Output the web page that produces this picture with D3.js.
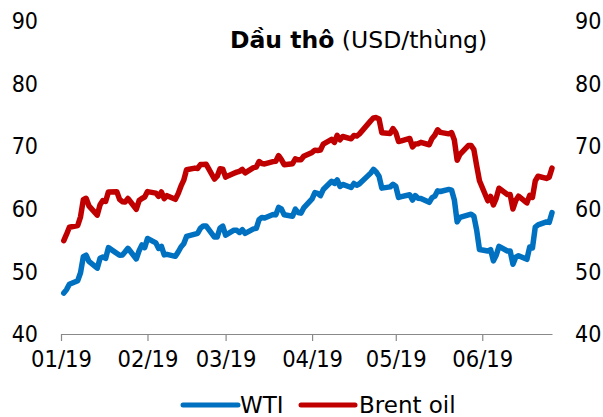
<!DOCTYPE html>
<html>
<head>
<meta charset="utf-8">
<script src="https://cdn.jsdelivr.net/npm/d3@7"></script>
<style>
  html, body { margin: 0; padding: 0; background: #fff; }
  svg { display: block; }
  text { font-family: "DejaVu Sans Condensed", "DejaVu Sans", sans-serif; font-stretch: condensed; fill: #000; }
  text.wide { font-family: "DejaVu Sans", sans-serif; font-stretch: normal; }
</style>
</head>
<body>
<div id="chart"></div>
<script>
// trading days, Jan 2 – Jun 26, 2019
const dates = [
  "2019-01-02","2019-01-03","2019-01-04","2019-01-07","2019-01-08","2019-01-09","2019-01-10","2019-01-11",
  "2019-01-14","2019-01-15","2019-01-16","2019-01-17","2019-01-18","2019-01-21","2019-01-22","2019-01-23",
  "2019-01-24","2019-01-25","2019-01-28","2019-01-29","2019-01-30","2019-01-31",
  "2019-02-01","2019-02-04","2019-02-05","2019-02-06","2019-02-07","2019-02-08","2019-02-11","2019-02-12",
  "2019-02-13","2019-02-14","2019-02-15","2019-02-18","2019-02-19","2019-02-20","2019-02-21","2019-02-22",
  "2019-02-25","2019-02-26","2019-02-27","2019-02-28",
  "2019-03-01","2019-03-04","2019-03-05","2019-03-06","2019-03-07","2019-03-08","2019-03-11","2019-03-12",
  "2019-03-13","2019-03-14","2019-03-15","2019-03-18","2019-03-19","2019-03-20","2019-03-21","2019-03-22",
  "2019-03-25","2019-03-26","2019-03-27","2019-03-28","2019-03-29",
  "2019-04-01","2019-04-02","2019-04-03","2019-04-04","2019-04-05","2019-04-08","2019-04-09","2019-04-10",
  "2019-04-11","2019-04-12","2019-04-15","2019-04-16","2019-04-17","2019-04-18","2019-04-22","2019-04-23",
  "2019-04-24","2019-04-25","2019-04-26","2019-04-29","2019-04-30",
  "2019-05-01","2019-05-02","2019-05-03","2019-05-06","2019-05-07","2019-05-08","2019-05-09","2019-05-10",
  "2019-05-13","2019-05-14","2019-05-15","2019-05-16","2019-05-17","2019-05-20","2019-05-21","2019-05-22",
  "2019-05-23","2019-05-24","2019-05-27","2019-05-28","2019-05-29","2019-05-30","2019-05-31",
  "2019-06-03","2019-06-04","2019-06-05","2019-06-06","2019-06-07","2019-06-10","2019-06-11","2019-06-12",
  "2019-06-13","2019-06-14","2019-06-17","2019-06-18","2019-06-19","2019-06-20","2019-06-21","2019-06-24",
  "2019-06-25","2019-06-26"
];

// null = no trading that day
const wti = [
  46.54, 47.09, 47.96, 48.52, 49.78, 52.36, 52.59, 51.59, 50.51, 52.11, 52.31, 52.07, 53.80, null, 52.57, 52.62,
  53.13, 53.69, 51.99, 53.31, 54.23, 53.79,
  55.26, 54.56, 53.66, 54.01, 52.64, 52.72, 52.41, 53.10, 53.90, 54.41, 55.59, null, 56.09, 56.92, 57.26, 57.26,
  55.48, 55.50, 56.94, 57.22,
  55.80, 56.59, 56.56, 56.22, 56.66, 56.07, 56.79, 56.87, 58.26, 58.61, 58.52, 59.09, 59.03, 60.23, 59.98, 59.04,
  58.82, 59.94, 59.41, 59.30, 60.14,
  61.59, 62.58, 62.46, 62.10, 63.08, 64.40, 64.05, 64.61, 63.58, 63.89, 63.40, 64.05, 63.76, 64.00, 65.70, 66.30,
  65.89, 65.21, 63.30, 63.50, 63.91,
  63.60, 61.81, 61.94, 62.25, 61.40, 62.12, 61.70, 61.66, 61.04, 61.78, 62.02, 62.87, 62.76, 63.10, 62.99, 61.42,
  57.91, 58.63, null, 59.14, 58.81, 56.59, 53.50,
  53.25, 53.48, 51.68, 52.59, 53.99, 53.26, 53.27, 51.14, 52.28, 52.51, 51.93, 53.90, 53.76, 57.07, 57.43, 57.90,
  57.83, 59.38
];

const brent = [
  54.91, 55.95, 57.06, 57.33, 58.72, 61.44, 61.68, 60.48, 58.99, 60.64, 61.32, 61.18, 62.70, 62.74, 61.50, 61.14,
  61.09, 61.64, 59.93, 61.32, 61.65, 61.89,
  62.75, 62.51, 61.98, 62.69, 61.63, 62.10, 61.51, 62.42, 63.61, 64.57, 66.25, 66.50, 66.45, 67.08, 67.07, 67.12,
  64.76, 65.21, 66.39, 66.31,
  65.07, 65.67, 65.86, 65.99, 66.30, 65.74, 66.58, 66.67, 67.55, 67.23, 67.16, 67.54, 67.61, 68.50, 67.86, 67.03,
  67.21, 67.97, 67.83, 67.82, 68.39,
  69.01, 69.37, 69.31, 69.40, 70.34, 71.10, 70.61, 71.73, 71.02, 71.55, 71.18, 71.72, 71.62, 71.97, 74.04, 74.51,
  74.57, 74.35, 72.15, 72.04, 72.80,
  72.18, 70.75, 70.85, 71.24, 69.88, 70.37, 70.39, 70.62, 70.23, 71.24, 71.77, 72.62, 72.21, 71.97, 72.18, 70.99,
  67.76, 68.69, 70.11, 70.11, 69.45, 66.87, 64.49,
  61.28, 61.97, 60.63, 61.67, 63.29, 62.29, 62.29, 59.97, 61.31, 62.01, 60.94, 62.14, 61.82, 64.45, 65.20, 64.86,
  65.05, 66.49
];

const yTicks = [40, 50, 60, 70, 80, 90];
const monthTicks = ["2019-01-01", "2019-02-01", "2019-03-01", "2019-04-01", "2019-05-01", "2019-06-01"];
const seriesNames = ["WTI", "Brent oil"];
const seriesColors = ["#0070c0", "#c00000"];

const width = 603;
const height = 417;
const parse = d3.timeParse("%Y-%m-%d");

const svg = d3.select("#chart").append("svg")
  .attr("width", width)
  .attr("height", height);

const x = d3.scaleTime()
  .domain([parse("2019-01-01"), parse(dates[dates.length - 1])])
  .range([61, 552]);

const y = d3.scaleLinear()
  .domain([40, 90])
  .range([334, 21]);

// x axis: baseline plus month ticks hanging below
const xAxis = svg.append("g")
  .attr("transform", `translate(0,${y(40)})`)
  .call(d3.axisBottom(x)
    .tickValues(monthTicks.map(parse))
    .tickFormat(d3.timeFormat("%m/%y"))
    .tickSize(7)
    .tickSizeOuter(0)
    .tickPadding(9));
xAxis.select(".domain").attr("stroke", "#898989").attr("stroke-width", 1.2);
xAxis.selectAll(".tick line").attr("stroke", "#898989").attr("stroke-width", 1.2);
xAxis.selectAll(".tick text")
  .attr("font-family", null)
  .style("font-size", "23.5px");

// y labels on both sides, no axis lines
const yLabels = svg.append("g");
yLabels.selectAll("text.left")
  .data(yTicks)
  .join("text")
  .attr("class", "left")
  .attr("x", 38)
  .attr("y", (d) => y(d))
  .attr("dy", "0.36em")
  .attr("text-anchor", "end")
  .style("font-size", "23px")
  .text((d) => d);
yLabels.selectAll("text.right")
  .data(yTicks)
  .join("text")
  .attr("class", "right")
  .attr("x", 575)
  .attr("y", (d) => y(d))
  .attr("dy", "0.36em")
  .attr("text-anchor", "start")
  .style("font-size", "23px")
  .text((d) => d);

// series lines
const line = d3.line()
  .x((d) => x(d.date))
  .y((d) => y(d.value));

[wti, brent].forEach((values, i) => {
  const points = dates
    .map((d, j) => ({ date: parse(d), value: values[j] }))
    .filter((p) => p.value !== null);
  svg.append("path")
    .datum(points)
    .attr("fill", "none")
    .attr("stroke", seriesColors[i])
    .attr("stroke-width", 5.5)
    .attr("stroke-linejoin", "round")
    .attr("stroke-linecap", "round")
    .attr("d", line);
});

// title
const title = svg.append("text")
  .attr("class", "wide")
  .attr("x", 230)
  .attr("y", 48)
  .style("font-size", "23.5px");
title.append("tspan").attr("font-weight", "bold").text("Dầu thô");
title.append("tspan").text(" (USD/thùng)");

// legend
const legendItems = [
  { x1: 183, x2: 238, tx: 240 },
  { x1: 301, x2: 355, tx: 359 }
];
const legend = svg.append("g");
legendItems.forEach((item, i) => {
  legend.append("line")
    .attr("x1", item.x1)
    .attr("x2", item.x2)
    .attr("y1", 405)
    .attr("y2", 405)
    .attr("stroke", seriesColors[i])
    .attr("stroke-width", 5)
    .attr("stroke-linecap", "round");
  legend.append("text")
    .attr("class", "wide")
    .attr("x", item.tx)
    .attr("y", 413)
    .style("font-size", "23px")
    .text(seriesNames[i]);
});
</script>
</body>
</html>
